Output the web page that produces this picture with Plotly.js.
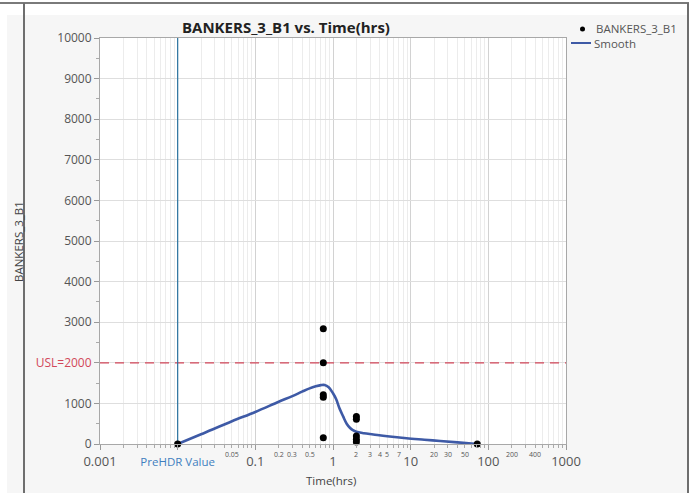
<!DOCTYPE html>
<html>
<head>
<meta charset="utf-8">
<script src="https://cdn.plot.ly/plotly-3.0.1.min.js"></script>
<style>
  html, body { margin: 0; padding: 0; background: #ffffff; }
  #chart { width: 693px; height: 493px; }
</style>
</head>
<body>
<div id="chart"></div>
<script>
// Observed BANKERS_3_B1 readings against time (hours)
const timeHrs = [0.01, 0.75, 0.75, 0.75, 0.75, 0.75, 2, 2, 2, 2, 2, 72];
const bankers = [0, 2840, 2000, 1210, 1150, 155, 680, 610, 200, 120, 50, 0];

// Smooth fit through the readings
const smoothX = [0.01, 0.02, 0.05, 0.1, 0.2, 0.3, 0.4, 0.5, 0.6, 0.7, 0.78, 0.88, 1.0, 1.1, 1.2, 1.35, 1.5, 1.65, 1.8, 2.0, 2.5, 3.3, 5, 8.85, 15, 24, 40, 72];
const smoothY = [0, 240, 560, 790, 1040, 1180, 1290, 1370, 1420, 1450, 1455, 1400, 1250, 1100, 900, 680, 500, 400, 340, 300, 265, 235, 190, 140, 105, 74, 40, 0];

// Reference lines
const preHdrTime = 0.01;
const uslValue = 2000;

// Axis ticks and labels
const yTickVals = [0, 1000, 2000, 3000, 4000, 5000, 6000, 7000, 8000, 9000, 10000];
const yTickText = ['0', '1000', '<span style="color:#d2475a">USL=2000</span>', '3000', '4000', '5000', '6000', '7000', '8000', '9000', '10000'];
const xMajorVals = [0.001, 0.01, 0.1, 1, 10, 100, 1000];
const xMajorText = ['0.001', '<span style="color:#3f7fbf;font-size:11.5px">PreHDR Value</span>', '0.1', '1', '10', '100', '1000'];
const xSmallLabels = [0.05, 0.2, 0.3, 0.5, 2, 3, 4, 5, 7, 20, 30, 50, 200, 400];

// Minor log positions (2..9 within each decade)
const xMinorVals = [];
for (let d = -3; d < 3; d++) {
  for (let m = 2; m <= 9; m++) xMinorVals.push(m * Math.pow(10, d));
}

// Page geometry helpers (plot area spans px 100..566 horizontally, 38..444 vertically)
const L = 100, R = 566, T = 38, B = 444;
const px = v => (v - L) / (R - L);
const py = v => (B - v) / (B - T);

const FONT = 'Open Sans, Noto Sans, sans-serif';

const traces = [
  {
    x: [0.001, 1000], y: [uslValue, uslValue],
    mode: 'lines', line: { color: '#d2475a', width: 1.3, dash: '9px,6px' },
    hoverinfo: 'skip', showlegend: false
  },
  {
    x: [preHdrTime, preHdrTime], y: [0, 10000],
    mode: 'lines', line: { color: '#2a73a0', width: 1.2 },
    hoverinfo: 'skip', showlegend: false, cliponaxis: false
  },
  {
    x: smoothX, y: smoothY, name: 'Smooth',
    mode: 'lines', line: { color: '#3e5aa6', width: 2.6, shape: 'spline', smoothing: 1 },
    showlegend: false
  },
  {
    x: timeHrs, y: bankers, name: 'BANKERS_3_B1',
    mode: 'markers', marker: { color: '#000000', size: 7 },
    showlegend: false, cliponaxis: false
  }
];

const annotations = xSmallLabels.map(v => ({
  x: Math.log10(v), xref: 'x', y: py(455), yref: 'paper',
  text: String(v), showarrow: false, xanchor: 'center', yanchor: 'middle',
  font: { family: FONT, size: 7, color: '#555' }
}));

annotations.push(
  { x: px(286), y: py(27), xref: 'paper', yref: 'paper', text: '<b>BANKERS_3_B1 vs. Time(hrs)</b>',
    showarrow: false, xanchor: 'center', yanchor: 'middle', font: { family: FONT, size: 15, color: '#222' } },
  { x: px(18), y: py(242), xref: 'paper', yref: 'paper', text: 'BANKERS_3_B1', textangle: -90,
    showarrow: false, xanchor: 'center', yanchor: 'middle', font: { family: FONT, size: 11.5, color: '#444' } },
  { x: px(331), y: py(480), xref: 'paper', yref: 'paper', text: 'Time(hrs)',
    showarrow: false, xanchor: 'center', yanchor: 'middle', font: { family: FONT, size: 11.5, color: '#444' } },
  { x: px(594), y: py(29), xref: 'paper', yref: 'paper', text: 'BANKERS_3_B1',
    showarrow: false, xanchor: 'left', yanchor: 'middle', font: { family: FONT, size: 11.5, color: '#555' } },
  { x: px(592), y: py(43), xref: 'paper', yref: 'paper', text: 'Smooth',
    showarrow: false, xanchor: 'left', yanchor: 'middle', font: { family: FONT, size: 11.5, color: '#555' } }
);

const shapes = [
  // white surround and panel frame
  { type: 'rect', xref: 'paper', yref: 'paper', x0: px(0), x1: px(693), y0: py(15), y1: py(0),
    fillcolor: '#ffffff', line: { width: 0 }, layer: 'below' },
  { type: 'rect', xref: 'paper', yref: 'paper', x0: px(0), x1: px(7), y0: py(493), y1: py(0),
    fillcolor: '#ffffff', line: { width: 0 }, layer: 'below' },
  { type: 'rect', xref: 'paper', yref: 'paper', x0: px(689), x1: px(693), y0: py(493), y1: py(0),
    fillcolor: '#ffffff', line: { width: 0 }, layer: 'below' },
  { type: 'line', xref: 'paper', yref: 'paper', x0: px(0), x1: px(689), y0: py(3), y1: py(3),
    line: { color: '#7a7a7a', width: 2 } },
  { type: 'line', xref: 'paper', yref: 'paper', x0: px(24), x1: px(24), y0: py(493), y1: py(3),
    line: { color: '#6e6e6e', width: 2 } },
  { type: 'line', xref: 'paper', yref: 'paper', x0: px(688), x1: px(688), y0: py(493), y1: py(3),
    line: { color: '#6e6e6e', width: 2 } },
  // legend symbols
  { type: 'circle', xref: 'paper', yref: 'paper', x0: px(580), x1: px(585), y0: py(31.5), y1: py(26.5),
    fillcolor: '#000', line: { width: 0 } },
  { type: 'line', xref: 'paper', yref: 'paper', x0: px(571), x1: px(591), y0: py(43), y1: py(43),
    line: { color: '#3e5aa6', width: 2 } }
];

const layout = {
  width: 693, height: 493,
  margin: { l: L, r: 693 - R, t: T, b: 493 - B, pad: 0 },
  paper_bgcolor: '#f6f6f6',
  plot_bgcolor: '#ffffff',
  showlegend: false,
  font: { family: FONT, color: '#444' },
  xaxis: {
    type: 'log', range: [-3, 3], autorange: false,
    tickmode: 'array', tickvals: xMajorVals, ticktext: xMajorText,
    tickfont: { family: FONT, size: 13, color: '#555' },
    ticks: 'outside', ticklen: 5, tickcolor: '#999',
    showline: true, linecolor: '#a8a8a8', linewidth: 1, mirror: true,
    showgrid: true, gridcolor: '#d2d2d2', gridwidth: 1,
    zeroline: false,
    minor: { tickmode: 'array', tickvals: xMinorVals, ticks: 'outside', ticklen: 3, tickcolor: '#aaa',
             showgrid: true, gridcolor: '#ececec', gridwidth: 1 }
  },
  yaxis: {
    range: [0, 10000], autorange: false,
    tickmode: 'array', tickvals: yTickVals, ticktext: yTickText,
    tickfont: { family: FONT, size: 12, color: '#555' },
    ticks: 'outside', ticklen: 5, tickcolor: '#999',
    showline: true, linecolor: '#a8a8a8', linewidth: 1, mirror: true,
    showgrid: true, gridcolor: '#dedede', gridwidth: 1,
    zeroline: false,
    minor: { tickmode: 'array', tickvals: [500, 1500, 2500, 3500, 4500, 5500, 6500, 7500, 8500, 9500],
             ticks: 'outside', ticklen: 3, tickcolor: '#aaa', showgrid: false }
  },
  annotations: annotations,
  shapes: shapes
};

Plotly.newPlot('chart', traces, layout, { displayModeBar: false, staticPlot: true });
</script>
</body>
</html>
